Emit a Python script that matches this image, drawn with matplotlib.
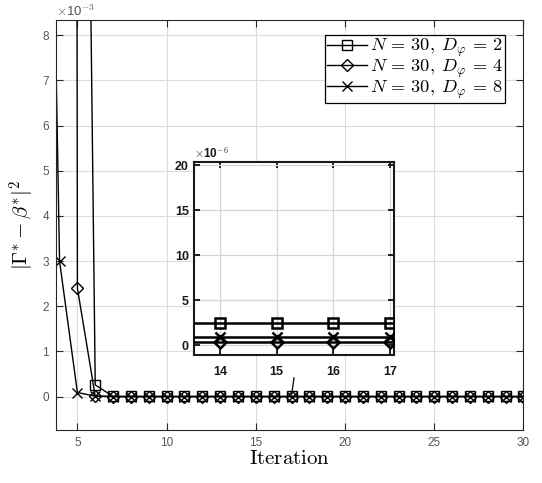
import numpy as np
import matplotlib
matplotlib.use("Agg")
import matplotlib.pyplot as plt
from matplotlib.ticker import FuncFormatter

plt.rcParams['mathtext.fontset'] = 'cm'
plt.rcParams['font.family'] = ['Liberation Sans', 'DejaVu Sans']

# iteration index and error values for each D_phi
x_d2 = list(range(5, 31))
y_d2 = [0.034, 0.26e-3] + [2.45e-6] * 24
x_d4 = list(range(4, 31))
y_d4 = [0.3, 2.4e-3, 1.0e-5] + [0.35e-6] * 24
x_d8 = list(range(3, 31))
y_d8 = [0.025, 3.0e-3, 0.09e-3, 1.0e-5] + [0.9e-6] * 24

labels = [r'$N\,=\,30,\;D_\varphi\,=\,2$',
          r'$N\,=\,30,\;D_\varphi\,=\,4$',
          r'$N\,=\,30,\;D_\varphi\,=\,8$']
markers = ['s', 'D', 'x']
series = [(x_d2, y_d2), (x_d4, y_d4), (x_d8, y_d8)]

tick_gray = '#555555'
grid_gray = '#dcdcdc'

fig = plt.figure(figsize=(5.42, 4.83), dpi=100)
ax = fig.add_axes([0.1033, 0.1097, 0.8625, 0.849])

for (xs, ys), m, lab in zip(series, markers, labels):
    ax.plot(xs, ys, color='k', lw=1.0, marker=m, ms=7 if m != 'D' else 6.5,
            mfc='none', mec='k', mew=1.0, label=lab)

ax.set_xlim(3.8, 30)
ax.set_ylim(-0.74e-3, 8.34e-3)
ax.set_xticks([5, 10, 15, 20, 25, 30])
ax.set_yticks([i * 1e-3 for i in range(0, 9)])
ax.yaxis.set_major_formatter(FuncFormatter(lambda v, p: '%d' % round(v / 1e-3)))
ax.grid(True, color=grid_gray, lw=0.8, ls='-')
ax.set_axisbelow(True)
ax.tick_params(direction='in', top=True, right=True, length=5, width=0.8,
               colors='#262626', labelcolor=tick_gray, labelsize=8.5, pad=5)
for s in ax.spines.values():
    s.set_color('#262626')
    s.set_linewidth(0.8)
ax.text(0.0, 1.003, r'$\times$10$^{-3}$', transform=ax.transAxes,
        fontsize=9.5, color=tick_gray, ha='left', va='bottom')

ax.set_xlabel(r'$\mathrm{Iteration}$', fontsize=15, labelpad=0)
ax.set_ylabel(r'$|\Gamma^{*}-\beta^{*}|^{2}$', fontsize=15, labelpad=4)

leg = ax.legend(loc='upper right', bbox_to_anchor=(0.9604, 0.9634),
                fontsize=13.2, frameon=True, fancybox=False, handlelength=2.2,
                handletextpad=0.15, borderpad=0.1, labelspacing=-0.08,
                borderaxespad=0.0)
leg.get_frame().set_edgecolor('k')
leg.get_frame().set_linewidth(0.9)
leg.get_frame().set_alpha(1)

# pointer from the inset to the zoomed region
ptr_from = (17.14, 0.42e-3)
ptr_to = (17.01, 0.04e-3)
ax.annotate('', xy=ptr_to, xytext=ptr_from,
            arrowprops=dict(arrowstyle='-', color='k', lw=0.9,
                            shrinkA=0, shrinkB=0))

# inset
ins = fig.add_axes([0.3585, 0.265, 0.3685, 0.3996])
ins.set_facecolor('white')
for (xs, ys), m in zip(series, markers):
    ins.plot(xs, ys, color='k', lw=1.8, marker=m, ms=6.5 if m != 'D' else 6,
             mfc='none', mec='k', mew=1.8, zorder=3)
ins.set_xlim(13.55, 17.07)
ins.set_ylim(-1.1e-6, 20.35e-6)
ins.set_xticks([14, 15, 16, 17])
ins.set_yticks([0, 5e-6, 10e-6, 15e-6, 20e-6])
ins.yaxis.set_major_formatter(FuncFormatter(lambda v, p: '%d' % round(v / 1e-6)))
ins.tick_params(direction='in', top=True, right=True, length=4, width=1.2,
                labelsize=9, labelcolor='#1a1a1a')
ins.tick_params(axis='x', pad=8)
ins.tick_params(axis='y', pad=4)
for lab in ins.get_xticklabels() + ins.get_yticklabels():
    lab.set_fontweight('bold')
for s in ins.spines.values():
    s.set_color('#1a1a1a')
    s.set_linewidth(1.5)
ins.grid(True, color='#d6d6d6', lw=0.9, ls='-', zorder=1)
ins.text(0.0, 1.005, r'$\times$10$^{-6}$', transform=ins.transAxes,
         fontsize=8.5, color='#1a1a1a', ha='left', va='bottom', fontweight='bold')

fig.savefig('out.png', dpi=100)
